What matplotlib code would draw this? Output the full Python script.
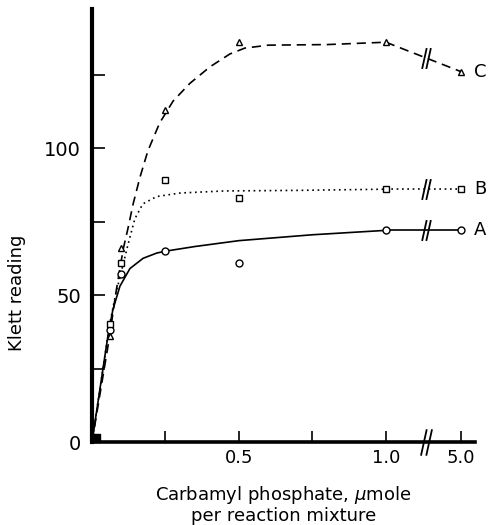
import numpy as np
import matplotlib.pyplot as plt
from matplotlib.path import Path

plt.rcParams['font.family'] = ['DejaVu Sans']

# measured points (carbamyl phosphate, umole) and Klett readings
conc = [0, 0.06, 0.1, 0.25, 0.5, 1.0, 5.0]
read_a = [0, 38, 57, 65, 61, 72, 72]
read_b = [0, 40, 61, 89, 83, 86, 86]
read_c = [0, 36, 66, 113, 136, 136, 126]

# hand drawn curves
curve_a_x = [0, 0.03, 0.054, 0.071, 0.095, 0.129, 0.174, 0.221, 0.255, 0.35, 0.5, 0.75, 1.0]
curve_a_y = [0, 20, 36, 45, 53, 59, 62.5, 64.3, 65, 66.5, 68.5, 70.5, 72]
curve_b_x = [0, 0.06, 0.08, 0.1, 0.122, 0.146, 0.173, 0.22, 0.3, 0.45, 0.7, 1.0]
curve_b_y = [0, 40, 50, 58, 67, 76, 81, 83.5, 84.7, 85.4, 85.6, 86]
curve_c_x = [0, 0.06, 0.08, 0.1, 0.107, 0.122, 0.14, 0.163, 0.19, 0.23, 0.276, 0.333,
             0.401, 0.469, 0.52, 0.6, 0.8, 1.0]
curve_c_y = [0, 36, 50, 62, 66, 72.5, 81, 90, 99, 108.5, 116, 122,
             127.6, 132, 134, 135, 135.2, 136]

labels = ['A', 'B', 'C']
x_ticks = [0.25, 0.5, 0.75, 1.0, 5.0]
x_ticklabels = ['', '0.5', '', '1.0', '5.0']
y_ticks = [0, 25, 50, 75, 100, 125]
y_ticklabels = ['0', '', '50', '', '100', '']

X_BREAK = 1.135


def to_axis(v):
    # compress the part beyond 1.0 (broken axis)
    v = np.asarray(v, float)
    return np.where(v <= 1.0, v, 1.0 + (v - 1.0) * 0.255 / 4.0)


brk = Path([(-0.42, -1), (0.02, 1), (-0.02, -1), (0.42, 1)],
           [Path.MOVETO, Path.LINETO, Path.MOVETO, Path.LINETO])
corner = Path([(0, 0), (1, 0), (1, 1), (0, 1), (0, 0)])

fig = plt.figure(figsize=(4.88, 5.25), dpi=100)
ax = fig.add_axes([92 / 488, 1 - 442 / 525, (475 - 92) / 488, (442 - 9) / 525])
ax.set_xlim(0, 1.303)
ax.set_ylim(0, 147.3)

styles = [dict(ls='-', marker='o'),
          dict(ls=(0, (1, 2.2)), marker='s'),
          dict(ls=(0, (5.5, 3.5)), marker='^')]
series = [(read_a, curve_a_x, curve_a_y),
          (read_b, curve_b_x, curve_b_y),
          (read_c, curve_c_x, curve_c_y)]
cx = to_axis(conc)

for (vals, kx, ky), st, lab in zip(series, styles, labels):
    ax.plot(to_axis(kx), ky, color='black', lw=1.2, ls=st['ls'], zorder=2)
    ax.plot(cx[-2:], vals[-2:], color='black', lw=1.2, ls=st['ls'], zorder=2)
    ax.plot(cx[1:], vals[1:], ls='none', marker=st['marker'], ms=5,
            mfc='white', mec='black', mew=1.0, zorder=3)
    yb = np.interp(X_BREAK, cx[-2:], vals[-2:])
    ax.plot([X_BREAK], [yb], ls='none', marker=brk, ms=15, mec='black',
            mew=1.3, zorder=4)
    ax.annotate(lab, (cx[-1], vals[-1]), xytext=(14, 0),
                textcoords='offset points', ha='center', va='center',
                fontsize=13, annotation_clip=False)

# filled block at the origin
ax.plot([0], [0], ls='none', marker=corner, ms=11, mfc='black', mec='black',
        clip_on=False, zorder=5)
# break on the x axis
ax.plot([X_BREAK], [0], ls='none', marker=brk, ms=19, mec='black', mew=1.3,
        clip_on=False, zorder=5)

for s in ['top', 'right']:
    ax.spines[s].set_visible(False)
ax.spines['left'].set_linewidth(3)
ax.spines['bottom'].set_linewidth(2.6)

ax.set_xticks(to_axis(x_ticks))
ax.set_xticklabels(x_ticklabels)
ax.set_yticks(y_ticks)
ax.set_yticklabels(y_ticklabels)
ax.tick_params(axis='y', direction='in', length=9, width=1.2, pad=8,
               labelsize=14)
ax.tick_params(axis='x', direction='in', length=8, width=1.2, pad=5,
               labelsize=13)

ax.set_xlabel('Carbamyl phosphate, $\\mu$mole\nper reaction mixture',
              fontsize=13, linespacing=1.05)
ax.xaxis.set_label_coords(0.5, -0.145)
ax.xaxis.label.set_va('center')
ax.set_ylabel('Klett reading', fontsize=13)
ax.yaxis.set_label_coords(-0.196, 0.344)
ax.yaxis.label.set_va('center')

fig.savefig('out.png', dpi=100)
